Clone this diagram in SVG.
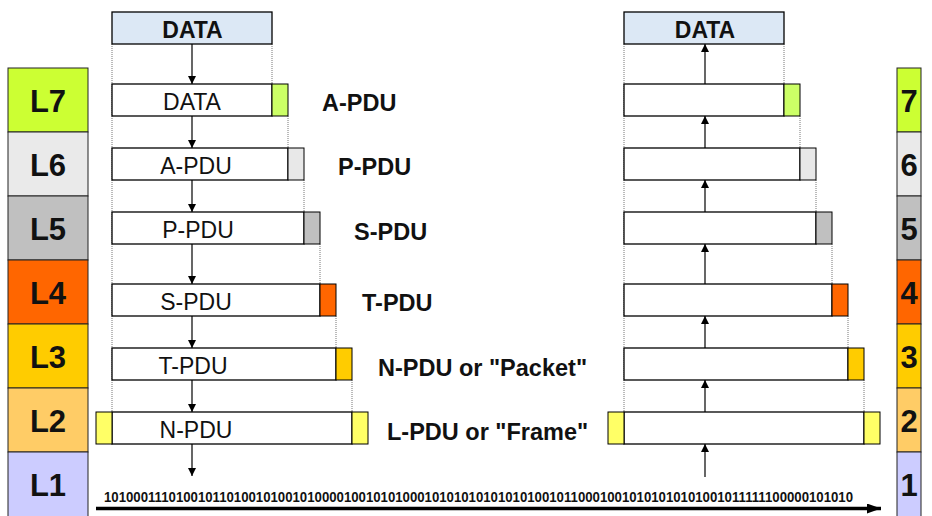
<svg xmlns="http://www.w3.org/2000/svg" width="932" height="516" viewBox="0 0 932 516">
<defs>
<style>
.box{fill:#fff;stroke:#000;stroke-width:1.3}
.hdr{stroke:#000;stroke-width:1}
.lay{stroke:#222;stroke-width:1}
.data{fill:#DCE8F5;stroke:#000;stroke-width:1.3}
.dot{stroke:#777;stroke-width:1;stroke-dasharray:1 1;fill:none}
.arr{stroke:#000;stroke-width:1.2;fill:none}
.t{font-family:"Liberation Sans",Arial,sans-serif;font-size:23px;text-anchor:middle;fill:#111}
.lbl{font-family:"Liberation Sans",Arial,sans-serif;font-size:23.5px;font-weight:bold;fill:#111}
.dt{font-family:"Liberation Sans",Arial,sans-serif;font-size:23px;font-weight:bold;text-anchor:middle;fill:#111}
.ln{font-family:"Liberation Sans",Arial,sans-serif;font-size:31px;font-weight:bold;text-anchor:middle;fill:#111}
.bits{font-family:"Liberation Sans",Arial,sans-serif;font-size:14px;font-weight:bold;fill:#111}
</style>
<marker id="ah" viewBox="0 0 8 10" refX="8" refY="5" markerWidth="8" markerHeight="10" markerUnits="userSpaceOnUse" orient="auto">
<path d="M0,1 L8,5 L0,9 Z" fill="#000"/>
</marker>
<marker id="bh" viewBox="0 0 14 10" refX="14" refY="5" markerWidth="14" markerHeight="10" markerUnits="userSpaceOnUse" orient="auto">
<path d="M0,0 L14,5 L0,10 Z" fill="#000"/>
</marker>
</defs>

<!-- Layer column left -->
<g id="layers-left">
<g id="L7"><rect class="lay" x="8" y="68" width="80" height="64" fill="#CCFF33"/><text class="ln" x="48" y="112">L7</text></g>
<g id="L6"><rect class="lay" x="8" y="132" width="80" height="64" fill="#EAEAEA"/><text class="ln" x="48" y="176">L6</text></g>
<g id="L5"><rect class="lay" x="8" y="196" width="80" height="64" fill="#C0C0C0"/><text class="ln" x="48" y="240">L5</text></g>
<g id="L4"><rect class="lay" x="8" y="260" width="80" height="64" fill="#FF6600"/><text class="ln" x="48" y="304">L4</text></g>
<g id="L3"><rect class="lay" x="8" y="324" width="80" height="64" fill="#FFCC00"/><text class="ln" x="48" y="368">L3</text></g>
<g id="L2"><rect class="lay" x="8" y="388" width="80" height="64" fill="#FFCC66"/><text class="ln" x="48" y="432">L2</text></g>
<g id="L1"><rect class="lay" x="8" y="452" width="80" height="66" fill="#CCCCFF"/><text class="ln" x="48" y="496">L1</text></g>
</g>

<!-- Layer column right -->
<g id="layers-right">
<g id="R7"><rect class="lay" x="897" y="68" width="24" height="64" fill="#CCFF33"/><text class="ln" x="909" y="112">7</text></g>
<g id="R6"><rect class="lay" x="897" y="132" width="24" height="64" fill="#EAEAEA"/><text class="ln" x="909" y="176">6</text></g>
<g id="R5"><rect class="lay" x="897" y="196" width="24" height="64" fill="#C0C0C0"/><text class="ln" x="909" y="240">5</text></g>
<g id="R4"><rect class="lay" x="897" y="260" width="24" height="64" fill="#FF6600"/><text class="ln" x="909" y="304">4</text></g>
<g id="R3"><rect class="lay" x="897" y="324" width="24" height="64" fill="#FFCC00"/><text class="ln" x="909" y="368">3</text></g>
<g id="R2"><rect class="lay" x="897" y="388" width="24" height="64" fill="#FFCC66"/><text class="ln" x="909" y="432">2</text></g>
<g id="R1"><rect class="lay" x="897" y="452" width="24" height="66" fill="#CCCCFF"/><text class="ln" x="909" y="496">1</text></g>
</g>

<!-- Dotted guide lines -->
<g id="guides">
<path class="dot" d="M112,44 V412 M272,44 V84 M288,116 V148 M304,180 V212 M320,244 V284 M336,316 V348 M352,380 V412"/>
<path class="dot" d="M624,44 V412 M784,44 V84 M800,116 V148 M816,180 V212 M832,244 V284 M848,316 V348 M864,380 V412"/>
</g>

<!-- Connectors -->
<g id="connectors">
<line class="arr" x1="192" y1="44" x2="192" y2="84" marker-end="url(#ah)"/>
<line class="arr" x1="192" y1="116" x2="192" y2="148" marker-end="url(#ah)"/>
<line class="arr" x1="192" y1="180" x2="192" y2="212" marker-end="url(#ah)"/>
<line class="arr" x1="192" y1="244" x2="192" y2="284" marker-end="url(#ah)"/>
<line class="arr" x1="192" y1="316" x2="192" y2="348" marker-end="url(#ah)"/>
<line class="arr" x1="192" y1="380" x2="192" y2="412" marker-end="url(#ah)"/>
<line class="arr" x1="192" y1="444" x2="192" y2="476" marker-end="url(#ah)"/>
<line class="arr" x1="705" y1="84" x2="705" y2="44" marker-end="url(#ah)"/>
<line class="arr" x1="705" y1="148" x2="705" y2="116" marker-end="url(#ah)"/>
<line class="arr" x1="705" y1="212" x2="705" y2="180" marker-end="url(#ah)"/>
<line class="arr" x1="705" y1="284" x2="705" y2="244" marker-end="url(#ah)"/>
<line class="arr" x1="705" y1="348" x2="705" y2="316" marker-end="url(#ah)"/>
<line class="arr" x1="705" y1="412" x2="705" y2="380" marker-end="url(#ah)"/>
<line class="arr" x1="705" y1="477" x2="705" y2="444" marker-end="url(#ah)"/>
<line x1="96" y1="508.5" x2="881" y2="508.5" stroke="#000" stroke-width="3.5" marker-end="url(#bh)"/>
</g>

<!-- Sender side -->
<g id="s-data"><rect class="data" x="112" y="12" width="160" height="32"/><text class="dt" x="192.5" y="38">DATA</text></g>
<g id="s7"><rect class="box" x="112" y="84" width="160" height="32"/><rect class="hdr" x="272" y="84" width="16" height="32" fill="#CCFF66"/><text class="t" x="192" y="110">DATA</text></g>
<g id="s6"><rect class="box" x="112" y="148" width="176" height="32"/><rect class="hdr" x="288" y="148" width="16" height="32" fill="#E8E8E8"/><text class="t" x="196" y="174">A-PDU</text></g>
<g id="s5"><rect class="box" x="112" y="212" width="192" height="32"/><rect class="hdr" x="304" y="212" width="16" height="32" fill="#C0C0C0"/><text class="t" x="198" y="238">P-PDU</text></g>
<g id="s4"><rect class="box" x="112" y="284" width="208" height="32"/><rect class="hdr" x="320" y="284" width="16" height="32" fill="#FF6600"/><text class="t" x="196" y="310">S-PDU</text></g>
<g id="s3"><rect class="box" x="112" y="348" width="224" height="32"/><rect class="hdr" x="336" y="348" width="16" height="32" fill="#FFCC00"/><text class="t" x="193" y="374">T-PDU</text></g>
<g id="s2"><rect class="box" x="112" y="412" width="240" height="32"/><rect class="hdr" x="96" y="412" width="16" height="32" fill="#FFFF66"/><rect class="hdr" x="352" y="412" width="16" height="32" fill="#FFFF66"/><text class="t" x="196" y="438">N-PDU</text></g>

<!-- Labels -->
<g id="labels">
<text class="lbl" x="322" y="111">A-PDU</text>
<text class="lbl" x="338" y="175">P-PDU</text>
<text class="lbl" x="354" y="240">S-PDU</text>
<text class="lbl" x="362" y="311">T-PDU</text>
<text class="lbl" x="378" y="376">N-PDU or "Packet"</text>
<text class="lbl" x="387" y="440">L-PDU or "Frame"</text>
</g>

<!-- Receiver side -->
<g id="r-data"><rect class="data" x="624" y="12" width="160" height="32"/><text class="dt" x="705" y="38">DATA</text></g>
<g id="r7"><rect class="box" x="624" y="84" width="160" height="32"/><rect class="hdr" x="784" y="84" width="16" height="32" fill="#CCFF66"/></g>
<g id="r6"><rect class="box" x="624" y="148" width="176" height="32"/><rect class="hdr" x="800" y="148" width="16" height="32" fill="#E8E8E8"/></g>
<g id="r5"><rect class="box" x="624" y="212" width="192" height="32"/><rect class="hdr" x="816" y="212" width="16" height="32" fill="#C0C0C0"/></g>
<g id="r4"><rect class="box" x="624" y="284" width="208" height="32"/><rect class="hdr" x="832" y="284" width="16" height="32" fill="#FF6600"/></g>
<g id="r3"><rect class="box" x="624" y="348" width="224" height="32"/><rect class="hdr" x="848" y="348" width="16" height="32" fill="#FFCC00"/></g>
<g id="r2"><rect class="box" x="624" y="412" width="240" height="32"/><rect class="hdr" x="608" y="412" width="16" height="32" fill="#FFFF66"/><rect class="hdr" x="864" y="412" width="16" height="32" fill="#FFFF66"/></g>

<!-- Bit stream -->
<g id="bitstream">
<text class="bits" x="104" y="502" textLength="749" lengthAdjust="spacingAndGlyphs">1010001110100101101001010010100001001010100010101010101010100101100010010101010101001011111100000101010</text>
</g>
</svg>
